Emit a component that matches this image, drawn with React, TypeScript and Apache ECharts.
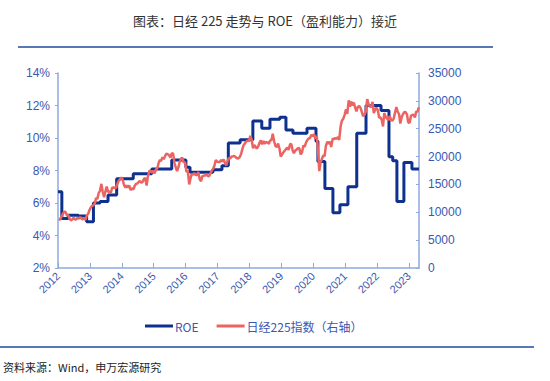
import React, { useEffect, useRef } from "react";
import * as echarts from "echarts";

const TITLE = "图表：日经 225 走势与 ROE（盈利能力）接近";
const SOURCE = "资料来源：Wind，申万宏源研究";
const ROE_NAME = "ROE";
const NK_NAME = "日经225指数（右轴）";

// ROE step series: start date of each step, value (%)
const roeDates = [
  "2012-01-01", "2012-02-14", "2012-04-27", "2012-08-22", "2012-11-24",
  "2013-02-10", "2013-04-27", "2013-07-27", "2013-11-03", "2014-05-12",
  "2014-12-10", "2015-07-27", "2016-01-05", "2016-02-21", "2016-11-10",
  "2017-02-21", "2017-05-05", "2017-09-17", "2018-02-10", "2018-05-23",
  "2018-08-25", "2018-12-16", "2019-02-24", "2019-05-15", "2019-10-23",
  "2020-02-03", "2020-02-25", "2020-05-15", "2020-08-15", "2020-11-03",
  "2021-02-03", "2021-05-15", "2021-08-29", "2022-02-17", "2022-05-19",
  "2022-07-01", "2022-08-18", "2022-11-06", "2023-02-06", "2023-04-27",
];
const roeValues = [
  6.7, 5.05, 5.25, 5.2, 4.85,
  6.0, 6.1, 6.5, 7.5, 7.8,
  8.1, 8.65, 8.2, 7.9, 8.05,
  8.3, 9.7, 9.9, 11.05, 10.6,
  11.15, 11.27, 10.5, 10.3, 10.6,
  9.8, 8.55, 6.9, 5.4, 5.9,
  7.0, 10.3, 12.0, 11.7, 8.85,
  8.6, 6.1, 8.5, 8.1, 8.1,
];

// Nikkei 225: two readings per month (mid, end), Jan 2012 – Apr 2023
const nkStartYear = 2012;
const nikkeiValues = [
  // 2012
  8550, 8800, 9250, 9720, 10120, 10080, 9470, 9520, 8900, 8540, 8720, 9000,
  8750, 8700, 9030, 8840, 9160, 8870, 8720, 8930, 8660, 9450, 9740, 10400,
  // 2013
  10900, 11140, 11300, 11560, 12560, 12400, 13500, 13860, 15100, 13770, 12700, 13680,
  14600, 13670, 13750, 13390, 14400, 14450, 14400, 14330, 15150, 15660, 15900, 16290,
  // 2014
  15800, 14910, 14400, 14840, 14400, 14830, 14000, 14300, 14100, 14630, 15100, 15160,
  15400, 15620, 15300, 15420, 16000, 16170, 14800, 16410, 17400, 17460, 17100, 17450,
  // 2015
  17000, 17670, 17900, 18800, 19400, 19200, 19900, 19520, 20100, 20560, 20400, 20240,
  19800, 20590, 20500, 18890, 18000, 17390, 18100, 19080, 19700, 19750, 18900, 19030,
  // 2016
  17200, 17520, 15000, 16030, 16900, 16760, 17000, 16670, 16700, 17230, 15900, 15580,
  16500, 16570, 16600, 16890, 16500, 16450, 17000, 17430, 17800, 18310, 19400, 19110,
  // 2017
  19000, 19040, 19400, 19120, 19500, 18910, 18400, 19200, 19800, 19650, 20000, 20030,
  20100, 19930, 19700, 19650, 19900, 20360, 21300, 22010, 22400, 22720, 22900, 22760,
  // 2018
  23700, 23100, 21500, 22070, 21800, 21450, 21800, 22470, 22900, 22200, 22800, 22300,
  22600, 22550, 22300, 22870, 23000, 24120, 22700, 21920, 21700, 22350, 21400, 20010,
  // 2019
  20400, 20770, 21100, 21390, 21600, 21210, 22200, 22260, 21100, 20600, 21100, 21280,
  21500, 21520, 20400, 20700, 21990, 21760, 22500, 22930, 23300, 23290, 23900, 23660,
  // 2020
  24000, 23200, 23700, 21140, 17400, 18920, 19600, 20190, 20100, 21880, 22700, 22290,
  22700, 21710, 23200, 23140, 23300, 23190, 23500, 22980, 25500, 26430, 26800, 27440,
  // 2021
  28500, 27660, 30100, 28970, 29900, 29180, 29700, 28810, 28100, 28860, 29100, 28790,
  28000, 27280, 27500, 28090, 30300, 29450, 29000, 28890, 29800, 27820, 28400, 28790,
  // 2022
  28300, 27000, 27000, 26530, 25400, 27820, 27100, 26850, 26500, 27280, 26600, 26390,
  26800, 27800, 28900, 28090, 27600, 25940, 27100, 27590, 28000, 27970, 27500, 26090,
  // 2023
  26100, 27330, 27500, 27450, 27000, 28040, 28100, 28850,
];

const pad = (n: number) => (n < 10 ? "0" + n : "" + n);
const nikkeiDates = nikkeiValues.map((_, i) => {
  const m = Math.floor(i / 2);
  const y = nkStartYear + Math.floor(m / 12);
  const mo = (m % 12) + 1;
  return `${y}-${pad(mo)}-${i % 2 === 0 ? "12" : "26"}`;
});

const BLUE = "#0E318F";
const RED = "#EC6461";
const AXIS = "#8EA9DE";
const LABEL = "#3A58B0";

export default function App() {
  const ref = useRef<HTMLDivElement>(null);
  useEffect(() => {
    if (!ref.current) return;
    const chart = echarts.init(ref.current, undefined, { renderer: "svg" });
    const YEAR = 365.25 * 24 * 3600 * 1000;
    chart.setOption({
      animation: false,
      backgroundColor: "#ffffff",
      textStyle: { fontFamily: "Liberation Sans, Arial, sans-serif" },
      title: {
        text: TITLE,
        left: 260,
        top: 9,
        textAlign: "center",
        textStyle: {
          fontSize: 13,
          fontWeight: "normal",
          color: "#333333",
          fontFamily: "Noto Sans CJK SC, sans-serif",
        },
      },
      grid: { left: 58, right: 131, top: 73, bottom: 113, containLabel: false },
      legend: {
        top: 315,
        left: 140,
        itemGap: 18,
        itemWidth: 28,
        itemHeight: 3,
        icon: "rect",
        data: [ROE_NAME, NK_NAME],
        textStyle: {
          fontSize: 12,
          color: LABEL,
          padding: [0, 0, 0, -3],
          fontFamily: "Noto Sans CJK SC, sans-serif",
        },
      },
      xAxis: {
        type: "time",
        min: "2012-01-01",
        max: "2023-04-28",
        minInterval: YEAR,
        maxInterval: YEAR,
        axisLine: { lineStyle: { color: AXIS, width: 1.5 } },
        axisTick: { inside: true, length: 5, lineStyle: { color: AXIS } },
        splitLine: { show: false },
        axisLabel: {
          rotate: 45,
          fontSize: 11,
          color: LABEL,
          margin: 6,
          formatter: "{yyyy}",
          showMaxLabel: false,
        },
      },
      yAxis: [
        {
          type: "value",
          min: 2,
          max: 14,
          interval: 2,
          axisLine: { show: true, lineStyle: { color: AXIS, width: 1.5 } },
          axisTick: { show: true, length: 3, lineStyle: { color: AXIS } },
          splitLine: { show: false },
          axisLabel: { fontSize: 12, color: LABEL, margin: 8, formatter: "{value}%" },
        },
        {
          type: "value",
          min: 0,
          max: 35000,
          interval: 5000,
          position: "right",
          axisLine: { show: true, lineStyle: { color: AXIS, width: 1.5 } },
          axisTick: { show: true, inside: true, length: 3, lineStyle: { color: AXIS } },
          splitLine: { show: false },
          axisLabel: {
            fontSize: 12,
            color: LABEL,
            margin: 9,
            formatter: (v: number) => String(v),
          },
        },
      ],
      series: [
        {
          name: ROE_NAME,
          type: "line",
          step: "end",
          yAxisIndex: 0,
          showSymbol: false,
          symbol: "none",
          lineStyle: { color: BLUE, width: 3 },
          itemStyle: { color: BLUE },
          data: roeDates.map((d, i) => [d, roeValues[i]]),
          z: 2,
        },
        {
          name: NK_NAME,
          type: "line",
          yAxisIndex: 1,
          showSymbol: false,
          symbol: "none",
          lineStyle: { color: RED, width: 2.5 },
          itemStyle: { color: RED },
          data: nikkeiDates.map((d, i) => [d, nikkeiValues[i]]),
          z: 3,
        },
      ],
      graphic: [
        {
          type: "line",
          shape: { x1: 18, y1: 47, x2: 493, y2: 47 },
          style: { stroke: "#1F4A9E", lineWidth: 1.5 },
        },
        {
          type: "line",
          shape: { x1: 0, y1: 347, x2: 534, y2: 347 },
          style: { stroke: "#1F4A9E", lineWidth: 1.5 },
        },
        {
          type: "text",
          left: 3,
          top: 361,
          style: {
            text: SOURCE,
            fontSize: 11,
            fill: "#222222",
            fontFamily: "Noto Sans CJK SC, sans-serif",
          },
        },
      ],
    });
    return () => chart.dispose();
  }, []);
  return (
    <div
      ref={ref}
      style={{ position: "absolute", left: 0, top: 0, width: 550, height: 381 }}
    />
  );
}
